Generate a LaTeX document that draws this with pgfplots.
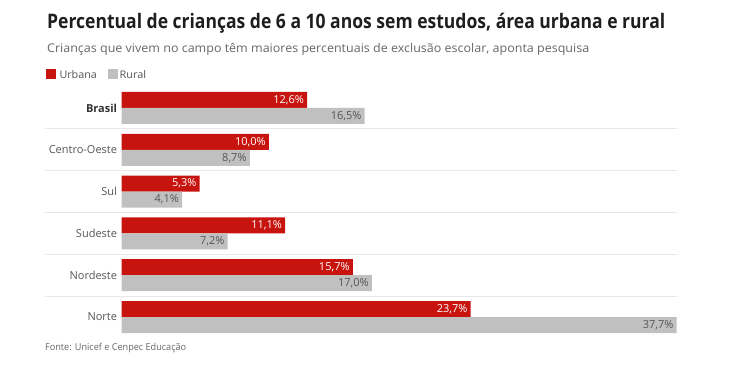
\documentclass[border=0pt]{standalone}
\usepackage{pgfplots}
\pgfplotsset{compat=1.18}
\usepackage{graphicx}
\usepackage{fontspec}
\setmainfont{Open Sans}
\definecolor{urb}{HTML}{C8140F}
\definecolor{rur}{HTML}{C0C0C0}
\definecolor{titlec}{HTML}{1E1E1E}
\definecolor{subc}{HTML}{666666}
\definecolor{labc}{HTML}{555555}
\definecolor{sepc}{HTML}{E8E8E8}
\begin{document}
\begin{tikzpicture}[x=1pt,y=1pt]
\path[use as bounding box] (0,0) rectangle (737,369);
% title, subtitle
\node[anchor=base west, inner sep=0pt, text=titlec] at (47,340)
  {\resizebox{618pt}{\height}{\fontsize{20}{24}\selectfont\bfseries Percentual de crianças de 6 a 10 anos sem estudos, área urbana e rural}};
\node[anchor=base west, inner sep=0pt, text=subc] at (47,316.3)
  {\resizebox{542pt}{\height}{\fontsize{12}{14}\selectfont Crianças que vivem no campo têm maiores percentuais de exclusão escolar, aponta pesquisa}};
% legend
\fill[urb] (45.5,289.5) rectangle (55.5,299.5);
\node[anchor=base west, inner sep=0pt, text=labc] at (59.3,290.7)
  {\resizebox{37.4pt}{\height}{\fontsize{10.5}{12}\selectfont Urbana}};
\fill[rur] (107.5,289.5) rectangle (117.5,299.5);
\node[anchor=base west, inner sep=0pt, text=labc] at (119.5,290.7)
  {\resizebox{26.5pt}{\height}{\fontsize{10.5}{12}\selectfont Rural}};
% footer
\node[anchor=base west, inner sep=0pt, text=subc] at (45,18)
  {\resizebox{141pt}{\height}{\fontsize{9.5}{11}\selectfont Fonte: Unicef e Cenpec Educação}};
\begin{axis}[
  at={(121.7pt,26.9pt)}, anchor=south west,
  scale only axis, width=555.7pt, height=259.2pt,
  xmin=0, xmax=37.75, ymin=-0.6, ymax=5.6,
  xbar, bar width=16pt,
  axis line style={draw=none},
  xtick=\empty,
  ytick={0,1,2,3,4,5},
  yticklabels={Norte,Nordeste,Sudeste,Sul,Centro-Oeste,{\color{black!80}\bfseries Brasil}},
  major tick length=0pt,
  yticklabel style={font=\fontsize{11}{13}\selectfont, text=labc, inner sep=0pt, xshift=-4.5pt},
  clip=false,
  nodes near coords={\pgfmathprintnumber[fixed,fixed zerofill,precision=1,use comma,assume math mode=true]{\pgfplotspointmeta}\%},
  nodes near coords style={font=\fontsize{11}{13}\selectfont, anchor=east, xshift=-3pt, inner sep=0pt},
]
\draw[sepc, line width=0.8pt] (axis cs:-5.21,0.5) -- (axis cs:37.7,0.5);
\draw[sepc, line width=0.8pt] (axis cs:-5.21,1.5) -- (axis cs:37.7,1.5);
\draw[sepc, line width=0.8pt] (axis cs:-5.21,2.5) -- (axis cs:37.7,2.5);
\draw[sepc, line width=0.8pt] (axis cs:-5.21,3.5) -- (axis cs:37.7,3.5);
\draw[sepc, line width=0.8pt] (axis cs:-5.21,4.5) -- (axis cs:37.7,4.5);
\addplot[fill=urb, draw=none, bar shift=8pt, every node near coord/.append style={text=white}]
  coordinates {(23.7,0) (15.7,1) (11.1,2) (5.3,3) (10.0,4) (12.6,5)};
\addplot[fill=rur, draw=none, bar shift=-8pt, every node near coord/.append style={text=labc}]
  coordinates {(37.7,0) (17.0,1) (7.2,2) (4.1,3) (8.7,4) (16.5,5)};
\end{axis}
\end{tikzpicture}
\end{document}
